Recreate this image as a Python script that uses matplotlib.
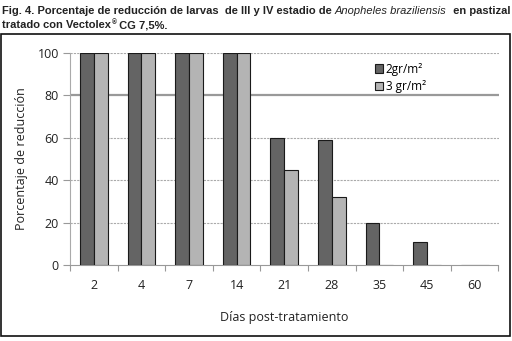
import matplotlib
matplotlib.use("Agg")
import matplotlib.pyplot as plt
import numpy as np
from matplotlib.patches import Rectangle
from matplotlib import font_manager as fm

days = ["2", "4", "7", "14", "21", "28", "35", "45", "60"]
dose2 = [100, 100, 100, 100, 60, 59, 20, 11, 0]
dose3 = [100, 100, 100, 100, 45, 32, 0, 0, 0]
yticks = [0, 20, 40, 60, 80, 100]

def find_font(name, bold, italic):
    for f in fm.fontManager.ttflist:
        if f.name == name and (f.weight in ("bold", 700)) == bold and (f.style == "italic") == italic \
                and "Narrow" not in f.fname:
            return f.fname
    return None

fb = find_font("Liberation Sans", True, False)
fi = find_font("Liberation Sans", False, True)

W, H = 512, 341
fig = plt.figure(figsize=(W/100, H/100), dpi=100)

ax = fig.add_axes([70/W, 1-265/H, 428.5/W, 212/H])
x = np.arange(len(days))
bw = 0.29
ax.bar(x - bw/2, dose2, bw, color="#646464", edgecolor="#1a1a1a", linewidth=0.8,
       label="2gr/m²", zorder=3)
ax.bar(x + bw/2, dose3, bw, color="#b4b4b4", edgecolor="#1a1a1a", linewidth=0.8,
       label="3 gr/m²", zorder=3)

ax.set_xlim(-0.5, len(days)-0.5)
ax.set_ylim(0, 100)
ax.set_yticks(yticks)
ax.set_xticks(x)
ax.set_xticklabels(days)
ax.set_xticks(np.arange(len(days)+1) - 0.5, minor=True)
ax.tick_params(axis="x", which="major", length=0, pad=10, labelsize=9, labelcolor="#222222")
ax.tick_params(axis="x", which="minor", length=4, color="#999999", width=0.8)
ax.tick_params(axis="y", length=5, color="#999999", width=0.8, pad=3, labelsize=9, labelcolor="#222222")
for t in ax.get_xticklabels() + ax.get_yticklabels():
    t.set_fontfamily("Open Sans")

for v in yticks[1:]:
    if v == 80:
        ax.axhline(v, color="#999999", linewidth=1.6, zorder=1)
    else:
        ax.axhline(v, color="#aaaaaa", linewidth=0.8, linestyle=(0, (2, 1)), zorder=1)

for s in ["top", "right"]:
    ax.spines[s].set_visible(False)
ax.spines["left"].set_color("#aaaaaa")
ax.spines["bottom"].set_color("#999999")
ax.spines["left"].set_linewidth(0.8)
ax.spines["bottom"].set_linewidth(0.8)

ax.set_ylabel("Porcentaje de reducción", fontsize=9, family="Open Sans", color="#222222", labelpad=7)
ax.set_xlabel("Días post-tratamiento", fontsize=9, family="Open Sans", color="#222222", labelpad=14)

leg = ax.legend(loc="upper left", bbox_to_anchor=(300/428.5, 1-5/212), frameon=False,
                prop={"family": "Open Sans", "size": 8.5}, handlelength=0.7, handleheight=0.7,
                handletextpad=0.25, labelspacing=0.4, borderaxespad=0)

r = fig.canvas.get_renderer()

def make_title(fs):
    for t in list(fig.texts):
        t.remove()
    def fp(path, weight="bold", style="normal", size=fs):
        if path:
            return fm.FontProperties(fname=path, size=size)
        return fm.FontProperties(family="Liberation Sans", weight=weight, style=style, size=size)
    col = "#222222"
    t1 = fig.text(2/W, 1-14/H, "Fig. 4. Porcentaje de reducción de larvas  de III y IV estadio de ",
                  fontproperties=fp(fb), color=col)
    bb = t1.get_window_extent(renderer=r)
    t2 = fig.text(bb.x1/W, 1-14/H, "Anopheles braziliensis", fontproperties=fp(fi, "normal", "italic"), color=col)
    bb2 = t2.get_window_extent(renderer=r)
    t3 = fig.text(bb2.x1/W, 1-14/H, "  en pastizal", fontproperties=fp(fb), color=col)
    line2 = fig.text(2/W, 1-28/H, "tratado con Vectolex", fontproperties=fp(fb), color=col)
    bl = line2.get_window_extent(renderer=r)
    reg = fig.text(bl.x1/W + 0.5/W, 1-24/H, "®", fontproperties=fp(fb, size=fs*0.6), color=col)
    br = reg.get_window_extent(renderer=r)
    fig.text(br.x1/W, 1-28/H, " CG 7,5%.", fontproperties=fp(fb), color=col)
    return t3.get_window_extent(renderer=r).x1

fs = 7.2
end = make_title(fs)
fs = fs * (508 - 2) / (end - 2)
make_title(fs)

fig.patches.append(Rectangle((1/W, 1-336/H), 509/W, 302/H, transform=fig.transFigure,
                             fill=False, edgecolor="#111111", linewidth=1.2))

fig.savefig("out.png", dpi=100)
